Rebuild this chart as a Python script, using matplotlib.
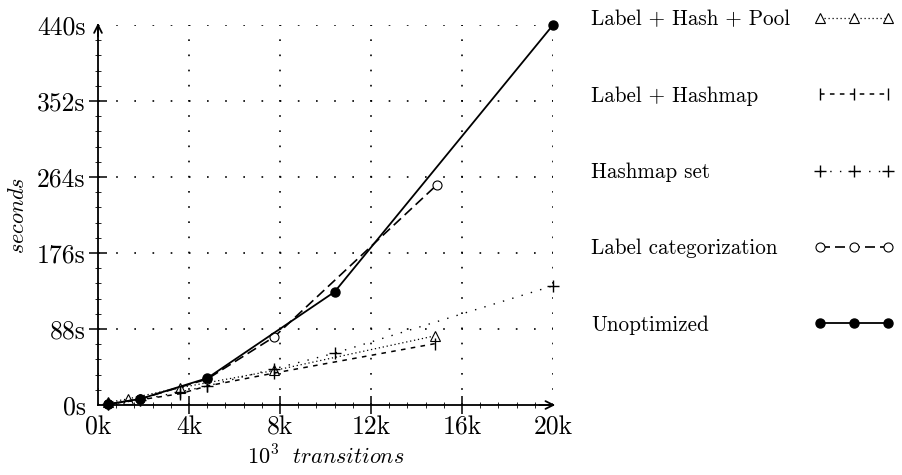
import matplotlib
matplotlib.use("Agg")
import matplotlib.pyplot as plt
from matplotlib.ticker import MultipleLocator

plt.rcParams['font.family'] = ['cmr10', 'DejaVu Serif']
plt.rcParams['mathtext.fontset'] = 'cm'
plt.rcParams['axes.formatter.use_mathtext'] = True

# ---- data (x in thousands of transitions, y in seconds) ----
unopt_x = [0.45, 1.85, 4.8, 10.4, 20.0]
unopt_y = [1, 7, 31, 131, 440]

labelcat_x = [0.45, 1.85, 4.8, 7.75, 14.9]
labelcat_y = [1, 7, 30, 79, 255]

hashset_x = [0.45, 1.85, 3.6, 4.8, 7.75, 10.4, 20.0]
hashset_y = [1, 6, 15, 22, 42, 60, 138]

hashmap_x = [0.45, 1.85, 3.6, 4.8, 7.75, 14.8]
hashmap_y = [1, 6, 13, 22, 37, 71]

pool_x = [0.45, 1.3, 3.6, 7.75, 14.8]
pool_y = [3, 7, 20, 40, 80]

x_ticks = [0, 4, 8, 12, 16, 20]
x_labels = ['0k', '4k', '8k', '12k', '16k', '20k']
y_ticks = [0, 88, 176, 264, 352, 440]
y_labels = ['0s', '88s', '176s', '264s', '352s', '440s']

fig = plt.figure(figsize=(9.02, 4.75), dpi=100)
ax = fig.add_axes([98/902, 1-405/475, (553-98)/902, (405-25)/475])

l_pool, = ax.plot(pool_x, pool_y, color='black', lw=0.9, ls=(0, (1, 2.2)),
                  marker='^', ms=7, mfc='white', mec='black', mew=0.8,
                  clip_on=False, zorder=3)
l_hmap, = ax.plot(hashmap_x, hashmap_y, color='black', lw=1.1, ls=(0, (3, 3.5)),
                  marker='|', ms=9, mew=1.0, clip_on=False, zorder=3)
l_hset, = ax.plot(hashset_x, hashset_y, color='black', lw=1.0, ls=(0, (1, 6)),
                  marker='+', ms=8, mew=1.0, clip_on=False, zorder=3)
l_cat, = ax.plot(labelcat_x, labelcat_y, color='black', lw=1.2, ls=(0, (6, 3)),
                 marker='o', ms=6.5, mfc='white', mec='black', mew=0.8,
                 clip_on=False, zorder=3)
l_un, = ax.plot(unopt_x, unopt_y, color='black', lw=1.3, ls='-',
                marker='o', ms=6.5, mfc='black', mec='black',
                clip_on=False, zorder=4)

ax.set_xlim(0, 20)
ax.set_ylim(0, 440)
ax.set_xticks(x_ticks)
ax.set_xticklabels(x_labels)
ax.set_yticks(y_ticks)
ax.set_yticklabels(y_labels)
ax.xaxis.set_minor_locator(MultipleLocator(0.8))
ax.yaxis.set_minor_locator(MultipleLocator(17.6))
ax.tick_params(which='major', direction='inout', length=13, width=1.1,
               labelsize=18.5, pad=1)
ax.tick_params(axis='y', which='major', pad=2.5)
ax.tick_params(which='minor', direction='inout', length=4, width=0.6)
for t in (ax.xaxis.get_major_ticks()[0], ax.xaxis.get_major_ticks()[-1],
          ax.yaxis.get_major_ticks()[0], ax.yaxis.get_major_ticks()[-1]):
    t.tick1line.set_visible(False)

for s in ('top', 'right'):
    ax.spines[s].set_visible(False)
for s in ('left', 'bottom'):
    ax.spines[s].set_linewidth(1.3)

# arrow heads on axes
ax.annotate('', xy=(1.005, 0), xytext=(0.97, 0), xycoords='axes fraction',
            arrowprops=dict(arrowstyle='->', lw=1.3, color='black',
                            shrinkA=0, shrinkB=0, mutation_scale=14))
ax.annotate('', xy=(0, 1.005), xytext=(0, 0.97), xycoords='axes fraction',
            arrowprops=dict(arrowstyle='->', lw=1.3, color='black',
                            shrinkA=0, shrinkB=0, mutation_scale=14))

# dotted grid
ax.xaxis.grid(True, which='major', color='black', lw=1.2, ls=(0, (1, 8.1)))
ax.yaxis.grid(True, which='major', color='black', lw=1.2, ls=(0, (1, 9.9)))
ax.set_axisbelow(True)

ax.set_xlabel(r'$10^3\ \ transitions$', fontsize=16, labelpad=4)
ax.set_ylabel(r'$seconds$', fontsize=16, labelpad=6)

handles = [l_pool, l_hmap, l_hset, l_cat, l_un]
labels = ['Label + Hash + Pool', 'Label + Hashmap', 'Hashmap set',
          'Label categorization', 'Unoptimized']

common = dict(frameon=False, fontsize=15.2, labelspacing=2.69, borderpad=0,
              borderaxespad=0, numpoints=3, bbox_transform=fig.transFigure)
legA = ax.legend(handles, labels, loc='upper right',
                 bbox_to_anchor=(894/902, 1-10/475), handlelength=3.8,
                 markerfirst=False, handletextpad=0.5, **common)
for t in legA.get_texts():
    t.set_visible(False)
ax.add_artist(legA)
legB = ax.legend(handles, labels, loc='upper left',
                 bbox_to_anchor=(591/902, 1-10/475), handlelength=0,
                 handletextpad=0, **common)
for h in legB.legend_handles:
    h.set_visible(False)

fig.savefig('out.png', dpi=100)
